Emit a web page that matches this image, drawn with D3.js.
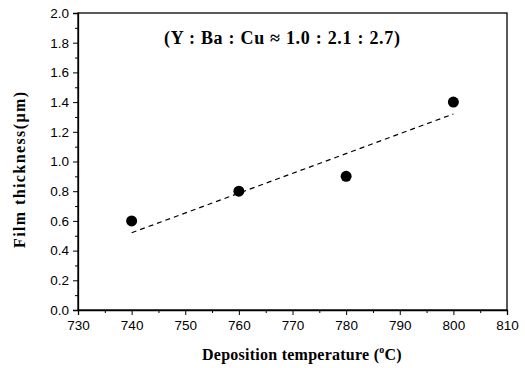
<!DOCTYPE html>
<html>
<head>
<meta charset="utf-8">
<script src="https://cdn.jsdelivr.net/npm/d3@7"></script>
<style>
  body { margin: 0; background: #fff; }
  svg { display: block; }
</style>
</head>
<body>
<div id="chart"></div>
<script>
// data
const temps = [740, 760, 780, 800];
const thickness = [0.6, 0.8, 0.9, 1.4];
const fitX = [740, 800];
const fitY = [0.52, 1.32];
const xTicks = [730, 740, 750, 760, 770, 780, 790, 800, 810];
const yTicks = [0.0, 0.2, 0.4, 0.6, 0.8, 1.0, 1.2, 1.4, 1.6, 1.8, 2.0];

const width = 525, height = 368;
const margin = {top: 13, right: 18, bottom: 58, left: 78};

const svg = d3.select("#chart").append("svg")
  .attr("width", width)
  .attr("height", height);

const x = d3.scaleLinear().domain([730, 810]).range([margin.left, width - margin.right]);
const y = d3.scaleLinear().domain([0, 2]).range([height - margin.bottom, margin.top]);

// frame
svg.append("rect")
  .attr("x", x(730)).attr("y", y(2))
  .attr("width", x(810) - x(730)).attr("height", y(0) - y(2))
  .attr("fill", "none").attr("stroke", "#000").attr("stroke-width", 1.3);

// axes
svg.append("g")
  .attr("transform", `translate(0,${y(0)})`)
  .call(d3.axisBottom(x).tickValues(xTicks).tickSize(5).tickPadding(5).tickFormat(d3.format("d")));
svg.append("g")
  .attr("transform", `translate(0,${y(0)})`)
  .call(d3.axisBottom(x).tickValues(d3.range(735, 810, 10)).tickSize(3).tickFormat(""))
  .call(g => g.select(".domain").remove());

svg.append("g")
  .attr("transform", `translate(${x(730)},0)`)
  .call(d3.axisLeft(y).tickValues(yTicks).tickSize(5).tickPadding(4).tickFormat(d3.format(".1f")));
svg.append("g")
  .attr("transform", `translate(${x(730)},0)`)
  .call(d3.axisLeft(y).tickValues(d3.range(0.1, 2.0, 0.2)).tickSize(3).tickFormat(""))
  .call(g => g.select(".domain").remove());

svg.selectAll(".domain").attr("stroke-width", 1.3);
svg.selectAll(".tick line").attr("stroke-width", 1);
svg.selectAll(".tick text")
  .attr("font-family", "Liberation Sans, Arial, sans-serif")
  .attr("font-size", 13.5)
  .attr("fill", "#000");

// dashed fit line
svg.append("path")
  .datum(fitX.map((d, i) => [d, fitY[i]]))
  .attr("fill", "none")
  .attr("stroke", "#000")
  .attr("stroke-width", 1.2)
  .attr("stroke-dasharray", "5,4")
  .attr("d", d3.line().x(d => x(d[0])).y(d => y(d[1])));

// points
svg.append("g")
  .selectAll("circle")
  .data(temps)
  .join("circle")
  .attr("cx", d => x(d))
  .attr("cy", (d, i) => y(thickness[i]))
  .attr("r", 5.5)
  .attr("fill", "#000");

// annotation
svg.append("text")
  .attr("x", 164).attr("y", 44)
  .attr("font-family", "Liberation Serif, Times New Roman, serif")
  .attr("font-weight", "bold")
  .attr("font-size", 18)
  .attr("textLength", 236)
  .attr("lengthAdjust", "spacing")
  .text("(Y : Ba : Cu ≈ 1.0 : 2.1 : 2.7)");

// axis titles
const xl = svg.append("text")
  .attr("x", 202).attr("y", 360)
  .attr("font-family", "Liberation Serif, Times New Roman, serif")
  .attr("font-weight", "bold")
  .attr("font-size", 16)
  .attr("letter-spacing", 0.25);
xl.append("tspan").text("Deposition temperature (");
xl.append("tspan").attr("dy", -7).attr("font-size", 10).text("o");
xl.append("tspan").attr("dy", 7).text("C)");

svg.append("text")
  .attr("transform", `translate(25,248) rotate(-90)`)
  .attr("font-family", "Liberation Serif, Times New Roman, serif")
  .attr("font-weight", "bold")
  .attr("font-size", 16)
  .attr("textLength", 156)
  .attr("lengthAdjust", "spacing")
  .text("Film thickness(μm)");
</script>
</body>
</html>
